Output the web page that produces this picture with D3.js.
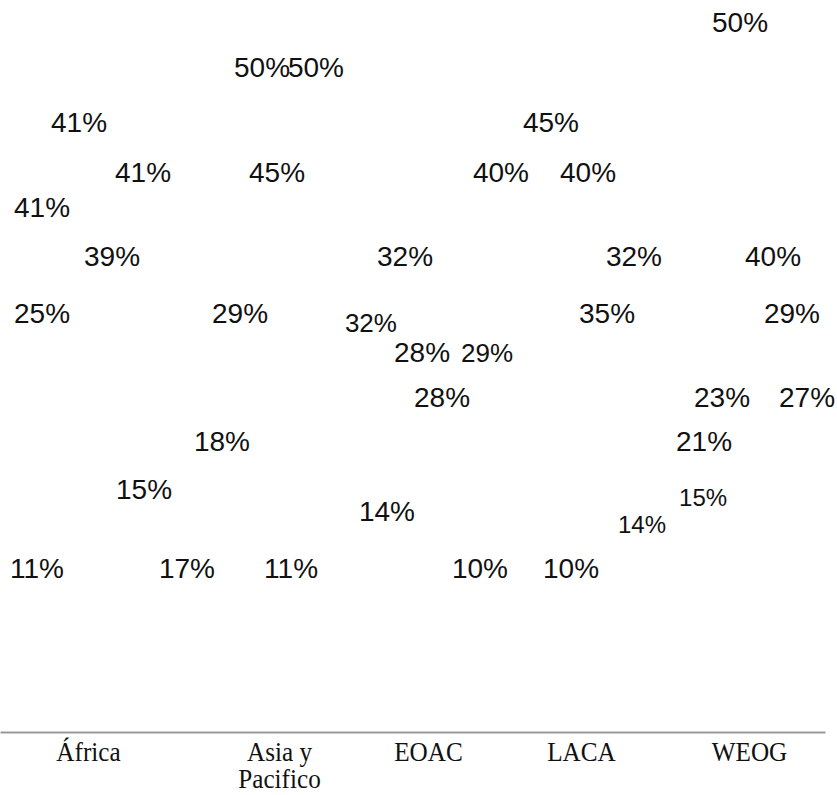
<!DOCTYPE html>
<html>
<head>
<meta charset="utf-8">
<script src="https://cdn.jsdelivr.net/npm/d3@7"></script>
<style>
body { margin: 0; background: #fff; }
</style>
</head>
<body>
<script>
/* DATA - 5 regions, 7 series, values in % */
const categories = ['África', 'Asia y Pacifico', 'EOAC', 'LACA', 'WEOG']
const seriesNames = ['Serie 1', 'Serie 2', 'Serie 3', 'Serie 4', 'Serie 5', 'Serie 6', 'Serie 7']
const s1 = [11, 17, 32, 40, 15]
const s2 = [41, 18, 14, 45, 21]
const s3 = [25, 29, 32, 10, 23]
const s4 = [41, 50, 28, 40, 50]
const s5 = [39, 45, 28, 35, 40]
const s6 = [41, 11, 10, 32, 29]
const s7 = [15, 50, 29, 14, 27]
const seriesValues = [s1, s2, s3, s4, s5, s6, s7]

/* LAYOUT - labels were dragged by hand in the original, so each one has a slot
   (fraction of the category band) and a level (0-100 of the plot height) */
const labelSlot = [
    [0.224, 0.133, 0.248, 0.036, 0.261],
    [0.255, 0.345, 0.345, 0.339, 0.267],
    [0.255, 0.455, 0.455, 0.461, 0.376],
    [0.479, 0.588, 0.558, 0.564, 0.485],
    [0.679, 0.679, 0.679, 0.679, 0.685],
    [0.867, 0.764, 0.909, 0.842, 0.800],
    [0.873, 0.915, 0.952, 0.891, 0.891]
]
const labelLevel = [
    [22.4, 22.4, 55.9, 76.5, 32.1],
    [71.7, 39.75, 30.2, 83.3, 39.75],
    [57.2, 57.2, 65.0, 22.4, 45.8],
    [83.3, 90.8, 51.9, 76.5, 97.0],
    [65.0, 76.5, 45.8, 57.2, 65.0],
    [76.5, 22.4, 22.4, 65.0, 57.2],
    [33.2, 90.8, 51.8, 28.3, 45.8]
]
// a few labels were shrunk in the original (key: category-series)
const smallLabels = {'2-0': 26, '2-6': 26, '3-6': 24, '4-0': 24}
// tick label nudges, the original labels are not centred on the bands
const tickNudge = [6, 32, 16, 4, 7]

let dim = {width: 837, height: 795}
let margin = {top: 0, bottom: 63, left: 0, right: 12}
const graphWidth = dim.width - margin.left - margin.right
const graphHeight = dim.height - margin.top - margin.bottom

let svg = d3.select('body').append('svg')
    .attr('width', dim.width).attr('height', dim.height)
    .style('background', '#fff')

const graph = svg.append('g').attr('transform', `translate(${margin.left}, ${margin.top})`)

let scaleX = d3.scaleBand().domain(categories).range([0, graphWidth])
let scaleY = d3.scaleLinear([0, 100], [graphHeight, 0])
let slotX = d3.scaleLinear([0, 1], [0, scaleX.bandwidth()])

/* AXIS */
const xAxisGroup = svg.append('g')
    .attr('transform', `translate(${margin.left}, ${graphHeight + margin.top})`)
let axisX = d3.axisBottom(scaleX).tickSize(0).tickSizeOuter(0).tickFormat('')
xAxisGroup.call(axisX)
xAxisGroup.select('.domain').attr('stroke', '#999').attr('stroke-width', 2)

const serifScale = 0.9
xAxisGroup.selectAll('.tick').each(function(d, i) {
    let t = d3.select(this).append('text')
        .attr('fill', '#111')
        .attr('font-family', '"Liberation Serif", "Times New Roman", serif')
        .attr('font-size', 28)
        .attr('text-anchor', 'middle')
        .attr('transform', `translate(${tickNudge[i]}, 0) scale(${serifScale}, 1)`)
    // wrap words to the label width
    let words = d.split(' ')
    let lines = [], line = []
    let probe = t.append('tspan')
    words.forEach(w => {
        let test = line.concat(w).join(' ')
        probe.text(test)
        if (probe.node().getComputedTextLength() * serifScale > 110 && line.length) {
            lines.push(line.join(' '))
            line = [w]
        } else {
            line.push(w)
        }
    })
    lines.push(line.join(' '))
    probe.remove()
    lines.forEach((l, li) => {
        t.append('tspan').attr('x', 0).attr('y', 29 + li * 27).text(l)
    })
})

/* LABELS */
const labels = categories.flatMap((c, ci) => seriesValues.map((vals, si) => ({
    cat: c, ci, si, series: seriesNames[si], value: vals[ci]
})))

graph.selectAll('text.lbl').data(labels).enter().append('text')
    .attr('class', 'lbl')
    .attr('x', d => scaleX(d.cat) + slotX(labelSlot[d.si][d.ci]))
    .attr('y', d => scaleY(labelLevel[d.si][d.ci]))
    .attr('dy', '0.36em')
    .attr('text-anchor', 'middle')
    .attr('font-family', '"Liberation Sans", Arial, sans-serif')
    .attr('font-size', d => smallLabels[`${d.ci}-${d.si}`] || 28)
    .attr('fill', '#111')
    .text(d => d.value + '%')
</script>
</body>
</html>
